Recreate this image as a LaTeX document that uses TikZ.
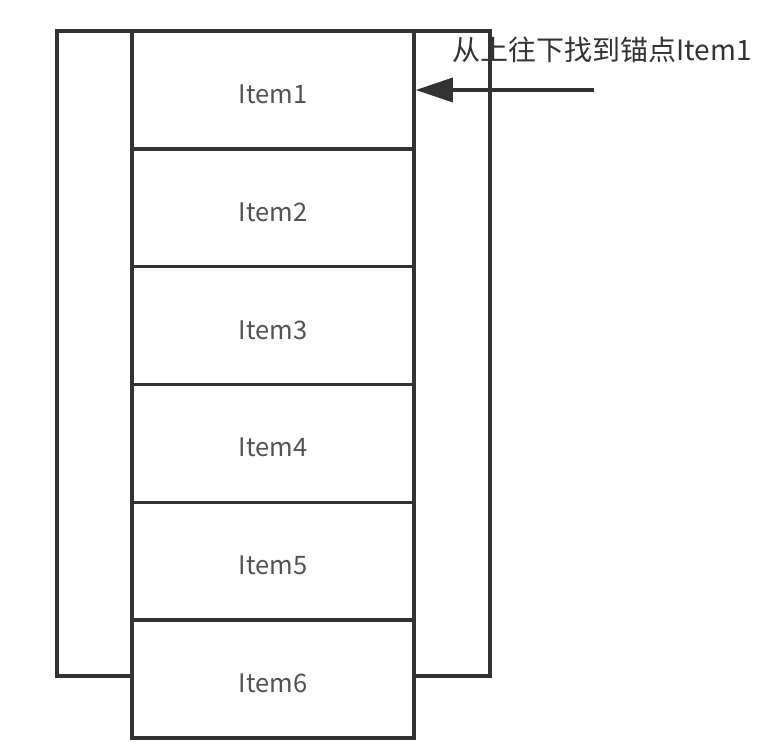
\documentclass[tikz,border=0pt]{standalone}
\usepackage{fontspec}
\setmainfont{Noto Sans CJK SC}
\usetikzlibrary{arrows.meta}
\definecolor{ink}{HTML}{333333}
\tikzset{
  itembox/.style={draw=ink, line width=3.5pt, fill=white, minimum width=282pt, minimum height=117.8pt, inner sep=0pt, text height=27pt, text depth=0pt, text=ink!85, font=\fontsize{25.5}{30}\selectfont},
  outerbox/.style={draw=ink, line width=3.5pt, minimum width=433pt, minimum height=645pt, inner sep=0pt},
  note/.style={text=ink, font=\fontsize{28}{32}\selectfont, inner sep=0pt},
  pointer/.style={draw=ink, line width=3.5pt, -{Triangle[length=37pt,width=24pt]}}
}
\begin{document}
\begin{tikzpicture}[x=1pt,y=-1pt]
\useasboundingbox (0,0) rectangle (773,745);
\node[outerbox] (outer) at (273.5,353.5) {};
\node[itembox] (i1) at (273,90) {Item1};
\node[itembox] (i2) at (273,207.8) {Item2};
\node[itembox] (i3) at (273,325.6) {Item3};
\node[itembox] (i4) at (273,443.4) {Item4};
\node[itembox] (i5) at (273,561.2) {Item5};
\node[itembox] (i6) at (273,679) {Item6};
\coordinate (start) at (594,90);
\draw[pointer] (start) -- (i1.east);
\node[note, anchor=base west] (lbl) at (452,60) {从上往下找到锚点Item1};
\end{tikzpicture}
\end{document}
